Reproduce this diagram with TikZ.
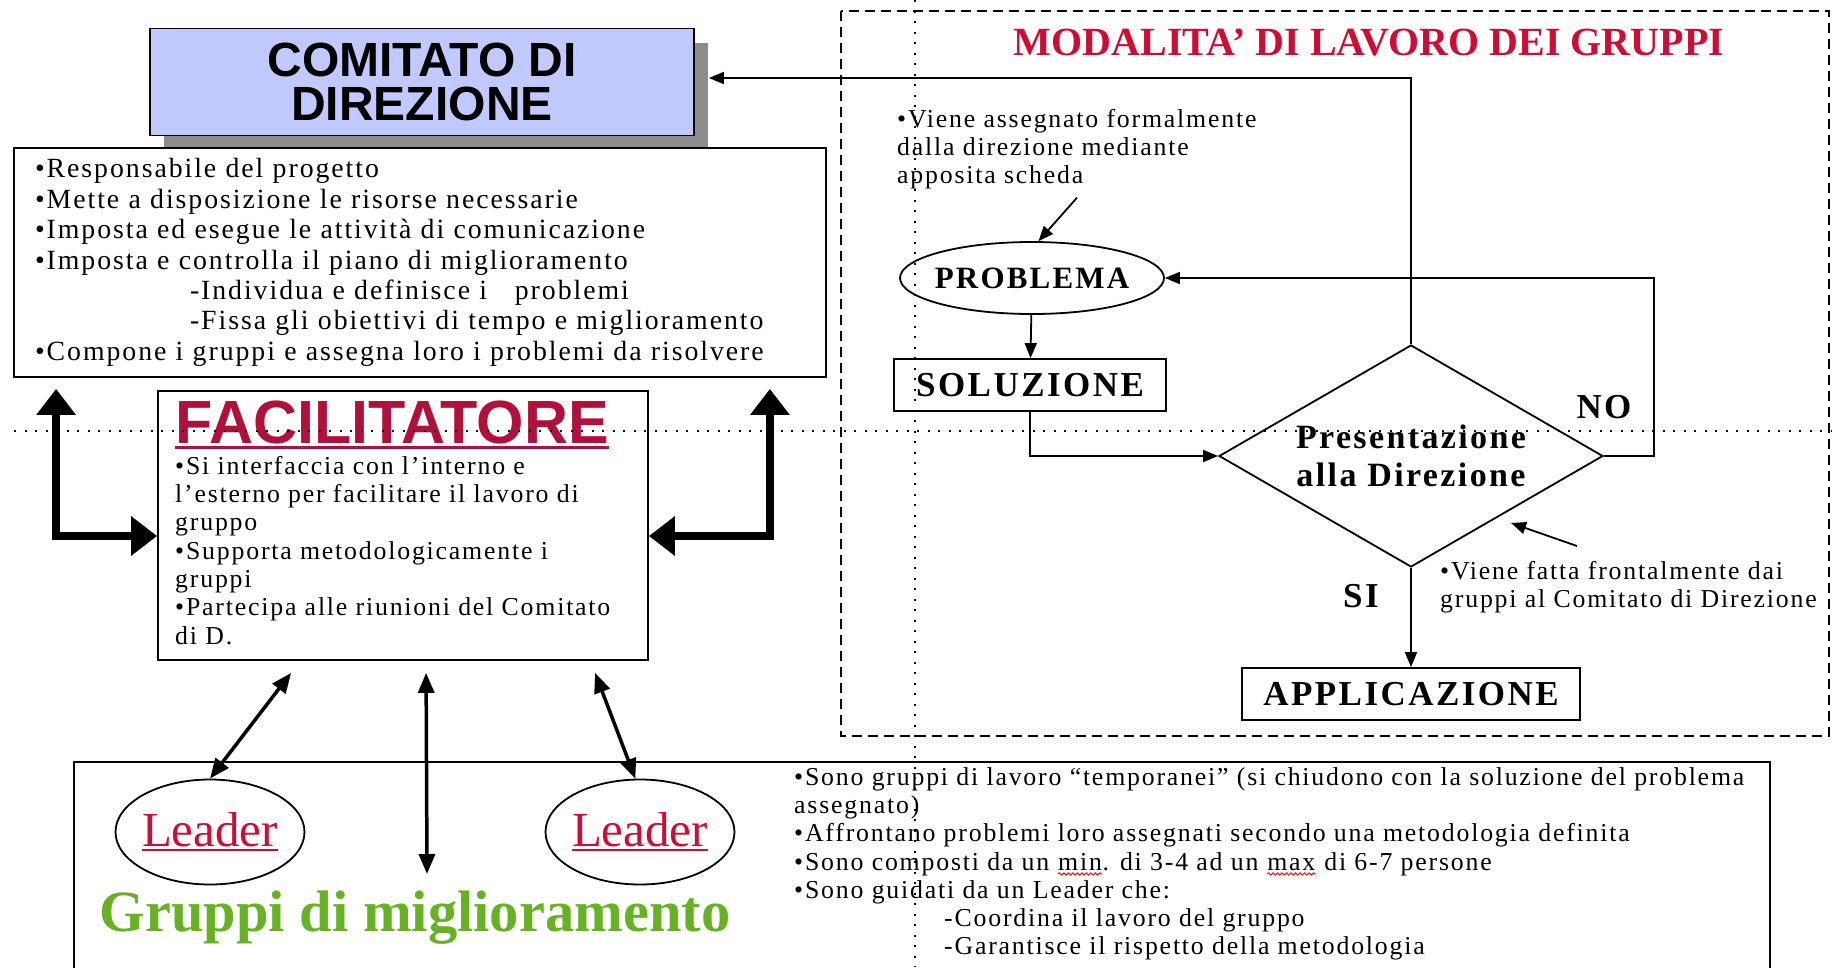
\documentclass[tikz,border=0pt]{standalone}
\usepackage{fontspec}
\setmainfont{Liberation Serif}
\setsansfont{Liberation Sans}
\newfontfamily\pptfont[LetterSpace=7]{Liberation Serif}
\usetikzlibrary{arrows.meta,shapes.geometric,shadows,decorations.pathmorphing}

\definecolor{comblue}{RGB}{193,202,255}
\definecolor{shadowgray}{RGB}{140,140,140}
\definecolor{facilred}{RGB}{176,16,58}
\definecolor{titlered}{RGB}{206,12,52}
\definecolor{leaderred}{RGB}{206,12,52}
\definecolor{groupgreen}{RGB}{102,178,34}

% underlined word, rule in the text colour
\newsavebox{\ulbox}
\newcommand{\ulword}[1]{\sbox{\ulbox}{#1}\rlap{\rule[-0.1em]{\wd\ulbox}{0.05em}}\usebox{\ulbox}}
% red spell-check wave under a word
\newcommand{\spellwave}[1]{\tikz[baseline=(w.base)]{\node[inner sep=0pt] (w) {#1};
    \draw[red, line width=0.9pt, line join=round, decorate,
        decoration={snake, amplitude=1.3pt, segment length=4.5pt}]
        ([yshift=-4pt]w.base west) -- ([yshift=-4pt]w.base east);}}

\begin{document}
\begin{tikzpicture}[
    x=1pt,
    y=-1pt,
    line join=miter,
    framebox/.style={draw, line width=1.8pt, inner sep=0pt},
    bodytext/.style={
        font=\pptfont\fontsize{25.8}{28.3}\selectfont,
        anchor=north west,
        align=left,
        inner sep=0pt
    },
    flowtext/.style={font=\pptfont\bfseries\fontsize{35}{38}\selectfont},
    arr/.style={line width=1.8pt, -{Triangle[length=15pt,width=12pt]}},
    leaderarr/.style={line width=3.5pt,
        {Triangle[length=20pt,width=16pt]}-{Triangle[length=20pt,width=16pt]}},
    thickarr/.style={line width=8pt,
        {Triangle[length=26pt,width=38pt]}-{Triangle[length=26pt,width=38pt]}},
    guide/.style={line width=2pt, dash pattern=on 2pt off 8.5pt},
    zone/.style={line width=2pt, dash pattern=on 10pt off 6pt}
]
    \useasboundingbox (0,0) rectangle (1832,967);

    % Comitato di direzione
    \node (comitato) [framebox, fill=comblue, minimum width=544, minimum height=107,
        drop shadow={shadow xshift=14pt, shadow yshift=-14pt, fill=shadowgray, opacity=1},
        align=center, font=\sffamily\bfseries\fontsize{48}{44}\selectfont]
        at (422,82) {COMITATO DI\\DIREZIONE};

    \node (comlist) [framebox, fill=white, minimum width=812, minimum height=229,
        text width=770, inner xsep=21pt, align=left,
        font=\pptfont\fontsize{27.8}{30.4}\selectfont] at (420,262.5)
        {•Responsabile del progetto\\
         •Mette a disposizione le risorse necessarie\\
         •Imposta ed esegue le attività di comunicazione\\
         •Imposta e controlla il piano di miglioramento\\
         \hspace*{155pt}-Individua e definisce i\ \ \ problemi\\
         \hspace*{155pt}-Fissa gli obiettivi di tempo e miglioramento\\
         •Compone i gruppi e assegna loro i problemi da risolvere};

    % Facilitatore
    \node (facil) [framebox, minimum width=490, minimum height=269] at (403,525.5) {};
    \node (faciltitle) [anchor=base west, inner sep=0pt, text=facilred,
        font=\sffamily\bfseries\fontsize{61}{63}\selectfont] at (175,443)
        {\ulword{FACILITATORE}};
    \node (faciltext) [bodytext] at (175,456)
        {•Si interfaccia con l’interno e\\
         l’esterno per facilitare il lavoro di\\
         gruppo\\
         •Supporta metodologicamente i\\
         gruppi\\
         •Partecipa alle riunioni del Comitato\\
         di D.};

    \draw[thickarr] ([yshift=-10.5pt]facil.west) -| ([xshift=43pt,yshift=-11pt]comlist.south west);
    \draw[thickarr] ([yshift=-10.5pt]facil.east) -| ([xshift=-57pt,yshift=-11pt]comlist.south east);

    % Modalita' di lavoro dei gruppi
    \draw[zone] (841,11) rectangle (1829,736);
    \node (title) [text=titlered, font=\bfseries\fontsize{40}{42}\selectfont]
        at (1369,42) {MODALITA’ DI LAVORO DEI GRUPPI};

    \node (note1) [bodytext] at (897,109)
        {•Viene assegnato formalmente\\
         dalla direzione mediante\\
         apposita scheda};
    \node (problema) [draw, ellipse, line width=1.8pt, minimum width=264, minimum height=72,
        inner xsep=-7pt, inner ysep=0pt, font=\pptfont\bfseries\fontsize{31}{33}\selectfont]
        at (1032,278) {PROBLEMA};
    \node (soluzione) [framebox, minimum width=272, minimum height=52, flowtext]
        at (1030,385) {SOLUZIONE};
    \node (decision) [draw, diamond, aspect=1.73, line width=1.8pt, minimum width=384,
        minimum height=222, inner sep=0pt, align=center,
        font=\pptfont\bfseries\fontsize{34}{38}\selectfont]
        at (1411,456) {Presentazione\\alla Direzione};
    \node (applicazione) [framebox, minimum width=338, minimum height=52, flowtext]
        at (1411,694) {APPLICAZIONE};
    \node (nolabel) [flowtext] at (1604,407) {NO};
    \node (silabel) [flowtext] at (1361,596) {SI};
    \node (note2) [bodytext] at (1440,561)
        {•Viene fatta frontalmente dai\\
         gruppi al Comitato di Direzione};

    \draw[arr] ([xshift=180pt,yshift=-8pt]note1.south west) -- (problema.80);
    \draw[arr] (problema) -- (soluzione);
    \draw[arr] (soluzione.south) |- (decision.west);
    \draw[arr] (decision.north) |- ([xshift=14pt,yshift=4pt]comitato.east);
    \draw[arr] (decision.east) -- ++(50,0) |- (problema.east);
    \draw[arr] (decision.south) -- (applicazione.north);
    \draw[arr] ([xshift=137pt,yshift=15pt]note2.north west) -- ([shift={(100,67)}]decision.center);

    % Gruppi di miglioramento
    \draw[line width=1.8pt] (74,762) rectangle (1770,1000);
    \node (leaderA) [draw, ellipse, line width=1.8pt, minimum width=189, minimum height=105,
        inner xsep=-3pt, inner ysep=0pt, text=leaderred, font=\fontsize{49}{51}\selectfont]
        at (210,832) {\ulword{Leader}};
    \node (leaderB) [draw, ellipse, line width=1.8pt, minimum width=189, minimum height=105,
        inner xsep=-3pt, inner ysep=0pt, text=leaderred, font=\fontsize{49}{51}\selectfont]
        at (640,832) {\ulword{Leader}};
    \coordinate (midtip) at (427,874);

    \draw[leaderarr] (leaderA.north) -- ([xshift=134pt,yshift=-12pt]facil.south west);
    \draw[leaderarr] (midtip) -- ([xshift=269pt,yshift=-12pt]facil.south west);
    \draw[leaderarr] (leaderB.95) -- ([xshift=438pt,yshift=-12pt]facil.south west);

    \node (gruppi) [text=groupgreen, font=\bfseries\fontsize{58.5}{60}\selectfont]
        at (415,918) {Gruppi di miglioramento};
    \node (gruppitext) [bodytext] at (794,767)
        {•Sono gruppi di lavoro “temporanei” (si chiudono con la soluzione del problema\\
         assegnato)\\
         •Affrontano problemi loro assegnati secondo una metodologia definita\\
         •Sono composti da un \spellwave{min}. di 3-4 ad un \spellwave{max} di 6-7 persone\\
         •Sono guidati da un Leader che:\\
         \hspace*{150pt}-Coordina il lavoro del gruppo\\
         \hspace*{150pt}-Garantisce il rispetto della metodologia};

    % Guides
    \draw[guide] (915,0) -- (915,967);
    \draw[guide] (14,431) -- (1832,431);
\end{tikzpicture}
\end{document}
